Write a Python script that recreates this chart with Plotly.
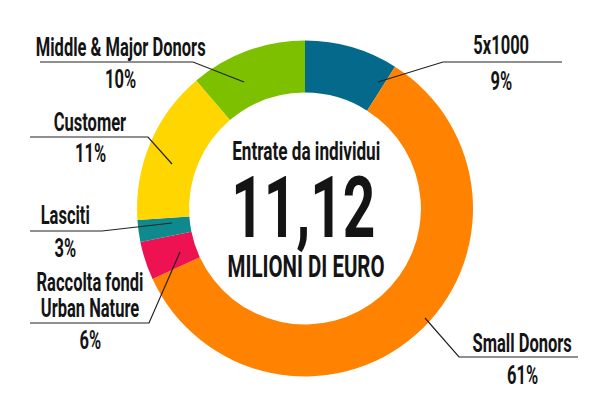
import plotly.graph_objects as go

# ---- data ----
categories = ["5x1000", "Small Donors", "Raccolta fondi<br>Urban Nature", "Lasciti", "Customer", "Middle & Major Donors"]
slice_values = [9.0, 59.1, 3.7, 2.1, 14.9, 11.2]          # arc sizes as drawn
pct_labels = ["9%", "61%", "6%", "3%", "11%", "10%"]        # printed percentages
colors = ["#05698B", "#FF8200", "#EE1253", "#0E8A8F", "#FFD600", "#7CC000"]
center_title = "Entrate da individui"
center_value = "11,12"
center_unit = "MILIONI DI EURO"

W, H = 600, 396
FONT = "Roboto, sans-serif"
INK = "#141414"

def px(x, y):
    return x / W, 1 - y / H

fig = go.Figure(go.Pie(
    values=slice_values,
    labels=[c.replace("<br>", " ") for c in categories],
    marker=dict(colors=colors, line=dict(width=0)),
    hole=0.69,
    sort=False,
    direction="clockwise",
    rotation=0,
    textinfo="none",
    hoverinfo="label+percent",
    showlegend=False,
    domain=dict(x=[137 / W, 473 / W], y=[(H - 377) / H, (H - 40) / H]),
))

# name_y = vertical centre of the name block (px from top)
label_layout = [
    dict(x=501, name_y=46, pct_y=81, path=[(562, 62), (443, 62), (378, 82)]),
    dict(x=522, name_y=343, pct_y=375, path=[(578, 357), (459, 357), (425, 318)]),
    dict(x=90, name_y=295, pct_y=340, path=[(30, 323), (149, 323), (180, 252)]),
    dict(x=65, name_y=216, pct_y=248, path=[(30, 231), (102, 231), (172, 223)]),
    dict(x=90, name_y=122, pct_y=153, path=[(30, 137), (148, 137), (172, 164)]),
    dict(x=120, name_y=47, pct_y=79, path=[(40, 62), (193, 62), (244, 82)]),
]

LABEL_SIZE = 25
LINE_BASE = 20   # base size -> 26px line pitch for wrapped names

annotations = []
shapes = []
for cat, pct, lay in zip(categories, pct_labels, label_layout):
    name_txt = "<br>".join(f"<span style='font-size:{LABEL_SIZE}px'>{t}</span>" for t in cat.split("<br>"))
    ax, ay = px(lay["x"], lay["name_y"])
    annotations.append(dict(x=ax, y=ay, xref="paper", yref="paper", text=name_txt,
                            showarrow=False, xanchor="center", yanchor="middle",
                            font=dict(family=FONT, size=LINE_BASE, color=INK, weight="bold")))
    ax, ay = px(lay["x"], lay["pct_y"])
    annotations.append(dict(x=ax, y=ay, xref="paper", yref="paper", text=pct,
                            showarrow=False, xanchor="center", yanchor="middle",
                            font=dict(family=FONT, size=LABEL_SIZE, color=INK, weight="bold")))
    pts = [px(*p) for p in lay["path"]]
    d = "M " + " L ".join(f"{a:.5f},{b:.5f}" for a, b in pts)
    shapes.append(dict(type="path", path=d, xref="paper", yref="paper",
                       line=dict(color="#222222", width=1.2)))

for txt, cx, cy, size in [(center_title, 306, 151, 26), (center_value, 303, 207, 86), (center_unit, 306, 266, 31)]:
    ax, ay = px(cx, cy)
    annotations.append(dict(x=ax, y=ay, xref="paper", yref="paper", text=txt,
                            showarrow=False, xanchor="center", yanchor="middle",
                            font=dict(family=FONT, size=size, color=INK, weight="bold")))

fig.update_layout(
    width=W, height=H,
    margin=dict(l=0, r=0, t=0, b=0),
    paper_bgcolor="white", plot_bgcolor="white",
    annotations=annotations, shapes=shapes,
)

js = ("var s=document.createElement('style');"
      "s.innerHTML='body{margin:0;} .annotation-text{transform-box:fill-box;"
      "transform-origin:center;transform:scaleX(0.66);}';"
      "document.head.appendChild(s);")
fig.write_html("out.html", post_script=js, config={"displayModeBar": False})
